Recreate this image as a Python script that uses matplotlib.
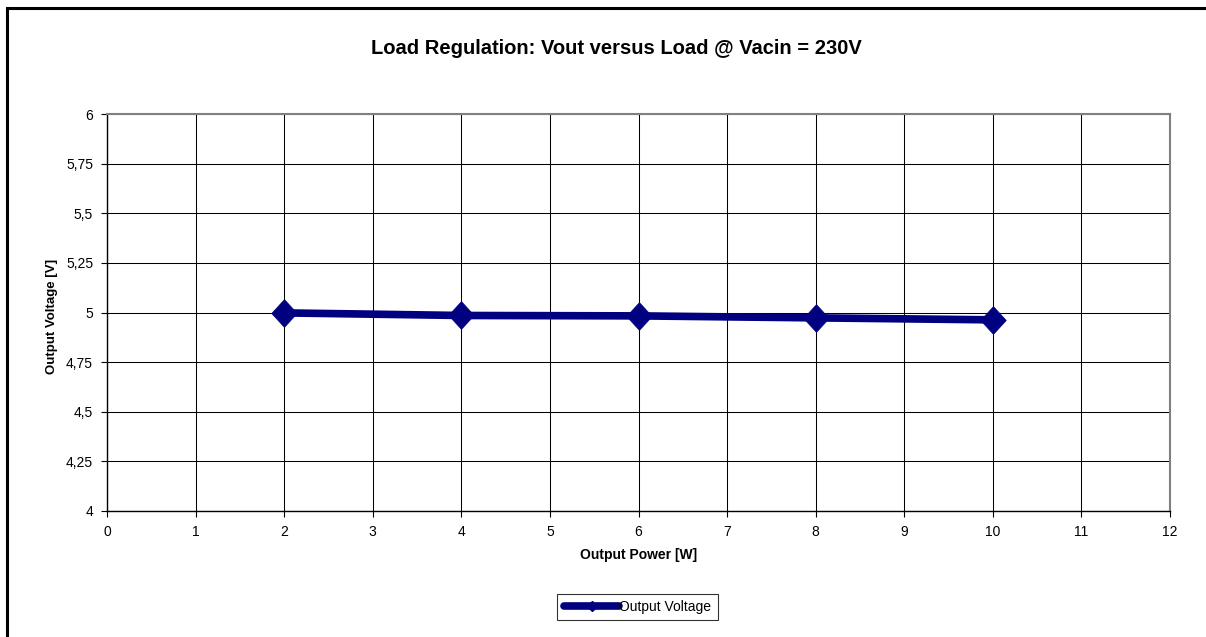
import matplotlib
matplotlib.use("Agg")
import matplotlib.pyplot as plt
from matplotlib.patches import Rectangle
from matplotlib.lines import Line2D

plt.rcParams['font.family'] = ['Liberation Sans', 'DejaVu Sans']

power_w = [2, 4, 6, 8, 10]
vout_v = [4.998, 4.985, 4.983, 4.973, 4.963]
x_ticks = list(range(0, 13))
y_ticks = [4, 4.25, 4.5, 4.75, 5, 5.25, 5.5, 5.75, 6]
y_tick_labels = ["4", "4,25", "4,5", "4,75", "5", "5,25", "5,5", "5,75", "6"]

W, H = 1206, 637
fig = plt.figure(figsize=(W / 100, H / 100), dpi=100)
# outer chart frame (right and bottom edges lie outside the picture)
fig.patches.append(Rectangle((7 / W, -0.1), 1.2, 1 - 8 / H + 0.1, transform=fig.transFigure,
                             fill=False, edgecolor='black', linewidth=2.2))

ax = fig.add_axes([107 / W, 1 - 511 / H, (1170 - 107) / W, (511 - 114) / H])
ax.set_xlim(0, 12)
ax.set_ylim(4, 6)
ax.set_xticks(x_ticks)
ax.set_xticklabels([str(t) for t in x_ticks])
ax.set_yticks(y_ticks)
ax.set_yticklabels(y_tick_labels)
ax.grid(True, color='black', linewidth=0.75)
ax.set_axisbelow(True)
for s in ['top', 'right']:
    ax.spines[s].set_color('#808080')
    ax.spines[s].set_linewidth(1.5)
for s in ['left', 'bottom']:
    ax.spines[s].set_color('black')
    ax.spines[s].set_linewidth(1.0)
ax.tick_params(axis='both', direction='out', length=4, width=0.8, labelsize=10, pad=6)

diamond = [(-0.46, 0), (0, 0.5), (0.46, 0), (0, -0.5), (-0.46, 0)]
ax.plot(power_w, vout_v, color='#000080', linewidth=5.5, marker=diamond, markersize=20,
        markeredgewidth=0.5, label='Output Voltage', solid_joinstyle='round', zorder=5)

ax.set_xlabel('Output Power [W]', fontsize=10, fontweight='bold')
ax.xaxis.set_label_coords(0.5, (511 - 548) / 397)
ax.set_ylabel('Output Voltage [V]', fontsize=9.5, fontweight='bold')
ax.yaxis.set_label_coords((52 - 107) / 1063, 0.49)
ax.yaxis.label.set_horizontalalignment('center')
ax.yaxis.label.set_verticalalignment('center')

fig.text(616 / W, 1 - 49 / H, 'Load Regulation: Vout versus Load @ Vacin = 230V',
         ha='center', va='center', fontsize=14.5, fontweight='bold')

h = Line2D([0], [0], color='#000080', linewidth=5.5, marker='D', markersize=5,
           solid_capstyle='round')
leg = fig.legend([h], ['Output Voltage'], loc='center', bbox_to_anchor=(637.5 / W, 1 - 607 / H),
                 fontsize=10, frameon=True, fancybox=False, edgecolor='black',
                 handlelength=4.0, handletextpad=0.0, borderpad=0.45, borderaxespad=0)
leg.get_frame().set_linewidth(0.8)

fig.savefig('out.png', dpi=100)
